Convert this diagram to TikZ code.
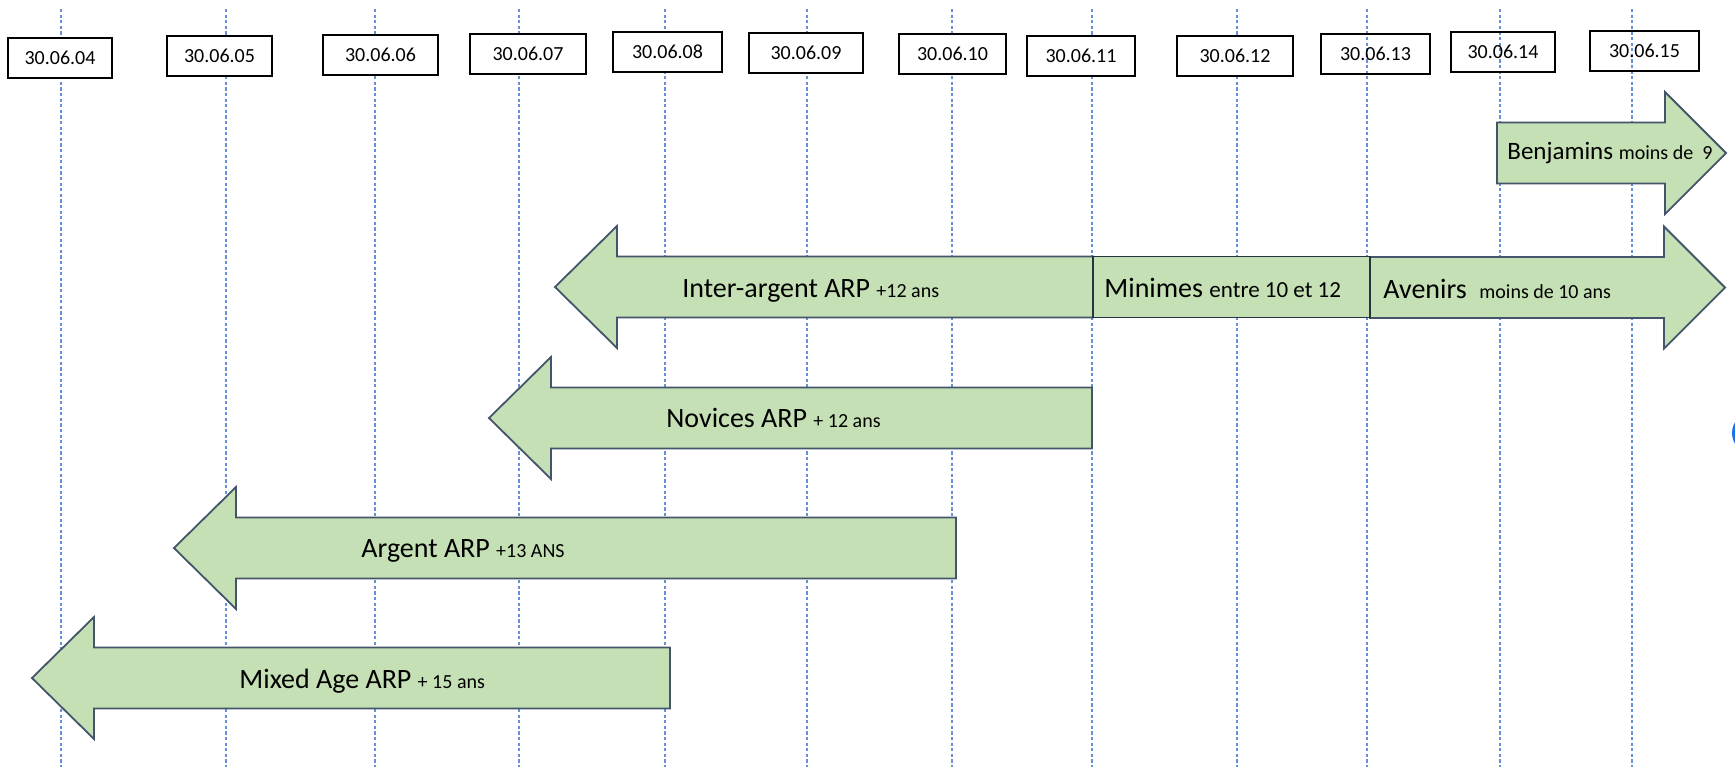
\documentclass[tikz,border=0pt]{standalone}
\usepackage{fontspec}
\setmainfont{Carlito}
\usetikzlibrary{positioning}

\definecolor{agegreen}{HTML}{C5E0B4}
\definecolor{ageedge}{HTML}{44546A}
\definecolor{gridblue}{HTML}{6690DC}
\definecolor{cornerblue}{HTML}{1A73E8}

\newcommand{\smalltext}[1]{{\fontsize{10}{12}\selectfont #1}}

% block arrows: tip, tail, middle height
\newcommand{\leftblock}[3]{%
  \draw[block] (#1,#3) -- (#1+62,#3-61) -- (#1+62,#3-30.5) -- (#2,#3-30.5)
    -- (#2,#3+30.5) -- (#1+62,#3+30.5) -- (#1+62,#3+61) -- cycle;}
% tail, tip, middle height
\newcommand{\rightblock}[3]{%
  \draw[block] (#1,#3-30.5) -- (#2-61,#3-30.5) -- (#2-61,#3-61) -- (#2,#3)
    -- (#2-61,#3+61) -- (#2-61,#3+30.5) -- (#1,#3+30.5) -- cycle;}

\begin{document}
\begin{tikzpicture}[x=0.5pt,y=-0.5pt,
    gridline/.style={draw=gridblue, line width=0.7pt, dash pattern=on 1.6pt off 1.2pt},
    datebox/.style={draw, line width=1pt, fill=white, minimum height=20pt, inner sep=0pt,
      font=\fontsize{10}{12}\selectfont},
    block/.style={fill=agegreen, draw=ageedge, line width=0.9pt},
    agelabel/.style={anchor=base west, inner sep=0pt, font=\fontsize{14}{16}\selectfont}]
  \useasboundingbox (0,0) rectangle (1735,767);

  % year lines
  \foreach \x in {61,226,375,519,665,807,952,1092,1237,1367,1500,1632}
    \draw[gridline] (\x,9) -- (\x,767);

  % dates
  \foreach \d/\x/\y/\w in {04/60/57.5/52pt, 05/219.5/56/52.5pt, 06/380.5/55/57.5pt,
      07/528/53.5/58pt, 08/667.5/52/54.5pt, 09/806/53/57pt, 10/952.5/53.5/53.5pt,
      11/1081/55.5/54pt, 12/1235/55.5/58pt}
    \node[datebox, minimum width=\w] (d\d) at (\x,\y) {30.06.\d};
  \foreach \d/\x/\y/\w in {13/1375.5/53.5/54.5pt, 14/1503/52/52pt, 15/1644.5/50.5/54.5pt}
    \node[datebox, fill=none, minimum width=\w] (d\d) at (\x,\y) {30.06.\d};

  % categories
  \rightblock{1497}{1726}{153}
  \node[agelabel, font=\fontsize{12.5}{15}\selectfont] (benjamins) at (1507,159)
    {Benjamins \smalltext{moins de~~9}};

  \leftblock{555}{1093}{287}
  \rightblock{1370}{1725}{287.5}
  \draw[block, draw=ageedge!60!black] (1093,256.5) rectangle (1370,317.5);
  \node[agelabel] (interargent) at (682,297) {Inter-argent ARP \smalltext{+12 ans}};
  \node[agelabel] (minimes) at (1104,297)
    {Minimes {\fontsize{11.5}{14}\selectfont entre 10 et 12}};
  \node[agelabel] (avenirs) at (1383,298) {Avenirs\ \ \smalltext{moins de 10 ans}};

  \leftblock{489}{1092}{418}
  \node[agelabel] (novices) at (666,427) {Novices ARP \smalltext{+ 12 ans}};

  \leftblock{174}{956}{548}
  \node[agelabel] (argent) at (361,557) {Argent ARP \smalltext{+13 ANS}};

  \leftblock{32}{670}{678}
  \node[agelabel] (mixedage) at (239,688) {Mixed Age ARP \smalltext{+ 15 ans}};

  \fill[cornerblue] (1753,433) circle[radius=10.5pt];
\end{tikzpicture}
\end{document}
